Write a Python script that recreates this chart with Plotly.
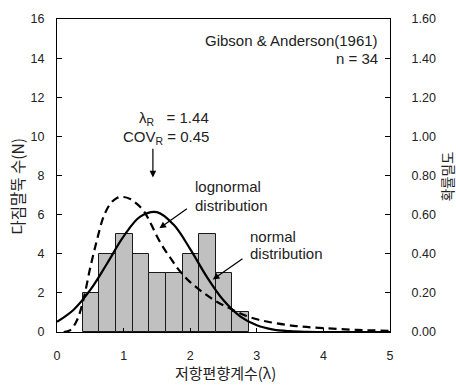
import plotly.graph_objects as go

# Histogram of bias factors (bin centres, width 0.25)
bin_centers = [0.51, 0.76, 1.01, 1.26, 1.51, 1.76, 2.01, 2.26, 2.51, 2.76]
counts = [2, 4, 5, 4, 3, 3, 4, 5, 3, 1]
bin_width = 0.25

# Fitted normal density
normal_x = [0.0, 0.25, 0.5, 0.75, 1.0, 1.25, 1.5, 1.75, 2.0, 2.25, 2.5, 2.75,
            3.0, 3.25, 3.5, 3.75, 4.0, 4.5, 5.0]
normal_pdf = [0.052, 0.114, 0.215, 0.349, 0.489, 0.59, 0.613, 0.549, 0.424,
              0.282, 0.162, 0.08, 0.034, 0.012, 0.004, 0.001, 0.0, 0.0, 0.0]

# Fitted lognormal density
lognormal_x = [0.1, 0.2, 0.3, 0.4, 0.5, 0.6, 0.7, 0.8, 0.9, 1.0, 1.1, 1.2, 1.3,
               1.4, 1.5, 1.6, 1.7, 1.8, 1.9, 2.0, 2.2, 2.4, 2.6, 2.8, 3.0, 3.2,
               3.6, 4.0, 4.5, 5.0]
lognormal_pdf = [0.0, 0.01, 0.06, 0.17, 0.33, 0.47, 0.59, 0.655, 0.685, 0.69,
                 0.68, 0.655, 0.62, 0.56, 0.49, 0.43, 0.38, 0.33, 0.29, 0.255,
                 0.20, 0.155, 0.12, 0.088, 0.065, 0.05, 0.03, 0.02, 0.011, 0.006]

LAMBDA_R = 1.44
COV_R = 0.45

left_ticks = [0, 2, 4, 6, 8, 10, 12, 14, 16]
right_ticks = [0.0, 0.2, 0.4, 0.6, 0.8, 1.0, 1.2, 1.4, 1.6]
x_ticks = [0, 1, 2, 3, 4, 5]

FONT = "Liberation Sans, Arial, Noto Sans CJK KR"
KFONT = "Noto Sans CJK KR, Liberation Sans"
TXT = "#222222"

fig = go.Figure()

fig.add_trace(go.Bar(
    x=bin_centers, y=counts, width=bin_width,
    marker=dict(color="#c0c0c0", line=dict(color="#1a1a1a", width=1)),
    yaxis="y", showlegend=False,
))

fig.add_trace(go.Scatter(
    x=normal_x, y=normal_pdf, mode="lines", yaxis="y2",
    line=dict(color="black", width=2.2, shape="spline", smoothing=1.0),
    showlegend=False,
))

fig.add_trace(go.Scatter(
    x=lognormal_x, y=lognormal_pdf, mode="lines", yaxis="y2",
    line=dict(color="black", width=2.2, dash="8px,5px", shape="spline", smoothing=1.0),
    showlegend=False,
))

annotations = [
    dict(x=4.85, y=14.9, text="Gibson & Anderson(1961)", xanchor="right", yanchor="middle"),
    dict(x=4.85, y=14.0, text=f"n = {sum(counts)}", xanchor="right", yanchor="middle"),
    dict(x=2.315, y=10.9, text=f"λ<sub>R</sub>   = {LAMBDA_R:.2f}", xanchor="right", yanchor="middle"),
    dict(x=2.315, y=9.95, text=f"COV<sub>R</sub> = {COV_R:.2f}", xanchor="right", yanchor="middle"),
    dict(x=2.045, y=7.45, text="lognormal", xanchor="left", yanchor="middle"),
    dict(x=2.045, y=6.45, text="distribution", xanchor="left", yanchor="middle"),
    dict(x=2.87, y=4.9, text="normal", xanchor="left", yanchor="middle"),
    dict(x=2.87, y=4.0, text="distribution", xanchor="left", yanchor="middle"),
]
for a in annotations:
    a.update(xref="x", yref="y", showarrow=False, font=dict(family=FONT, size=15, color=TXT))

# Arrows
arrows = [
    (LAMBDA_R, 7.9, LAMBDA_R, 9.45),
    (1.538, 5.3, 1.973, 6.35),
    (2.339, 2.685, 2.808, 3.8),
]
for (tx, ty, sx, sy) in arrows:
    annotations.append(dict(
        x=tx, y=ty, ax=sx, ay=sy, xref="x", yref="y", axref="x", ayref="y",
        text="", showarrow=True, arrowhead=2, arrowsize=1.1, arrowwidth=1.2,
        arrowcolor="black",
    ))

# Axis titles
annotations.append(dict(
    xref="paper", yref="paper", x=-0.12, y=0.465, text="다짐말뚝 수(N)",
    textangle=-90, showarrow=False, xanchor="center", yanchor="middle",
    font=dict(family=KFONT, size=15.5, color=TXT),
))
annotations.append(dict(
    xref="paper", yref="paper", x=1.17, y=0.496, text="확률밀도",
    textangle=-90, showarrow=False, xanchor="center", yanchor="middle",
    font=dict(family=KFONT, size=13.5, color=TXT),
))
annotations.append(dict(
    xref="paper", yref="paper", x=0.505, y=-0.128, text="저항편향계수(λ)",
    showarrow=False, xanchor="center", yanchor="middle",
    font=dict(family=KFONT, size=15, color=TXT),
))

fig.update_layout(
    width=456, height=392,
    margin=dict(l=57, r=66, t=12, b=60),
    paper_bgcolor="white", plot_bgcolor="white",
    bargap=0,
    font=dict(family=FONT, size=12.5, color=TXT),
    annotations=annotations,
    xaxis=dict(
        range=[0, 5], tickvals=x_ticks, ticks="inside", ticklen=4,
        tickcolor="black", showline=True, linecolor="black", linewidth=1,
        mirror=True, showgrid=False, zeroline=False, ticklabelstandoff=12,
    ),
    yaxis=dict(
        range=[0, 16], tickvals=left_ticks, ticks="inside", ticklen=5,
        tickcolor="black", showline=True, linecolor="black", linewidth=1,
        showgrid=False, zeroline=False, ticklabelstandoff=9,
    ),
    yaxis2=dict(
        range=[0, 1.6], tickvals=right_ticks, tickformat=".2f", overlaying="y",
        side="right", ticks="inside", ticklen=5, tickcolor="black",
        showline=True, linecolor="black", linewidth=1, showgrid=False,
        zeroline=False, ticklabelstandoff=18,
    ),
)

fig.write_html("out.html")
